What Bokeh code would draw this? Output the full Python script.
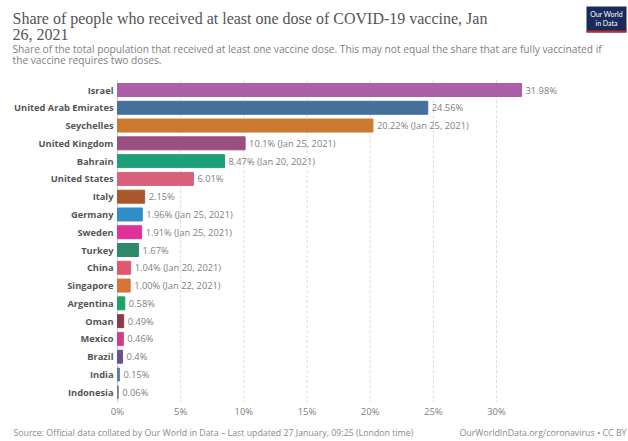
from bokeh.plotting import figure
from bokeh.models import ColumnDataSource, Range1d
from bokeh.core.properties import value
from bokeh.embed import file_html
from bokeh.resources import INLINE

countries = ["Israel", "United Arab Emirates", "Seychelles", "United Kingdom", "Bahrain",
             "United States", "Italy", "Germany", "Sweden", "Turkey", "China", "Singapore",
             "Argentina", "Oman", "Mexico", "Brazil", "India", "Indonesia"]
shares = [31.98, 24.56, 20.22, 10.1, 8.47, 6.01, 2.15, 1.96, 1.91, 1.67, 1.04, 1.00,
          0.58, 0.49, 0.46, 0.4, 0.15, 0.06]
share_text = ["31.98%", "24.56%", "20.22%", "10.1%", "8.47%", "6.01%", "2.15%", "1.96%",
              "1.91%", "1.67%", "1.04%", "1.00%", "0.58%", "0.49%", "0.46%", "0.4%",
              "0.15%", "0.06%"]
dates = ["", "", "Jan 25, 2021", "Jan 25, 2021", "Jan 20, 2021", "", "", "Jan 25, 2021",
         "Jan 25, 2021", "", "Jan 20, 2021", "Jan 22, 2021", "", "", "", "", "", ""]
colors = ["#ad5ea8", "#45709c", "#c97a2f", "#99507f", "#1f9e7a", "#d9607a", "#a8582b",
          "#2f8dc8", "#e0339a", "#2e8a6b", "#e2576b", "#d6743a", "#20a06a", "#8a3c4b",
          "#d33d88", "#6b4f94", "#5a7bb0", "#7a7a9a"]
x_ticks = [0, 5, 10, 15, 20, 25, 30]
x_tick_labels = ["0%", "5%", "10%", "15%", "20%", "25%", "30%"]

title_lines = ["Share of people who received at least one dose of COVID-19 vaccine, Jan",
               "26, 2021"]
subtitle_lines = ["Share of the total population that received at least one vaccine dose. "
                  "This may not equal the share that are fully vaccinated if",
                  "the vaccine requires two doses."]
source_text = ("Source: Official data collated by Our World in Data – Last updated "
               "27 January, 09:25 (London time)")
url_text = "OurWorldInData.org/coronavirus • CC BY"

labels = [t + (" (" + d + ")" if d else "") for t, d in zip(share_text, dates)]
rows = list(range(len(countries)))

# canvas geometry (pixels)
W, H = 628, 441
X0, XS = 117.0, (496.0 - 117.0) / 30.0   # canvas x of 0 %, px per %
Y0, YS = 89.5, 17.78                      # canvas y of first row centre, px per row
FONT = "Open Sans"


def dx(cx):
    return (cx - X0) / XS


def dy(cy):
    return (cy - Y0) / YS


p = figure(width=W, height=H, output_backend="svg", toolbar_location=None,
           x_range=Range1d(dx(0), dx(W)), y_range=Range1d(dy(H), dy(0)),
           min_border=0)
p.axis.visible = False
p.grid.visible = False
p.outline_line_color = None
p.background_fill_color = "white"
p.border_fill_color = "white"

src = ColumnDataSource(dict(row=rows, country=countries, share=shares, label=labels,
                            color=colors))

# grid lines
n = len(countries)
p.segment(x0=x_ticks[1:], x1=x_ticks[1:], y0=-0.55, y1=n - 0.45,
          line_color="#dddddd", line_dash="3 2", line_width=1)
p.segment(x0=[0], x1=[0], y0=-0.55, y1=n - 0.45, line_color="#cccccc", line_width=1)

# bars
p.hbar(y="row", right="share", left=0, height=0.73, color="color", source=src)

# bar labels
p.text(x="share", y="row", text="label", source=src, x_offset=4,
       text_baseline="middle", text_align="left", text_font_size="9.3px",
       text_color="#808080", text_font=value(FONT))
# category labels
p.text(x=0, y="row", text="country", source=src, x_offset=-4,
       text_baseline="middle", text_align="right", text_font_size="9.3px",
       text_font_style="bold", text_color="#555555", text_font=value(FONT))
# x tick labels
p.text(x=x_ticks, y=[dy(411)] * len(x_ticks), text=x_tick_labels,
       text_baseline="middle", text_align="center", text_font_size="9.5px",
       text_color="#808080", text_font=value(FONT))

# header
p.text(x=[dx(12)] * 2, y=[dy(18), dy(34)], text=title_lines, text_baseline="middle",
       text_align="left", text_font_size="16px", text_color="#555555",
       text_font=value("Liberation Serif"))
p.text(x=[dx(12)] * 2, y=[dy(48.5), dy(59.5)], text=subtitle_lines,
       text_baseline="middle", text_align="left", text_font_size="10.2px",
       text_color="#808080", text_font=value(FONT))
# footer
p.text(x=[dx(13)], y=[dy(432)], text=[source_text], text_baseline="middle",
       text_align="left", text_font_size="8.8px", text_color="#8a8a8a",
       text_font=value(FONT))
p.text(x=[dx(626)], y=[dy(432)], text=[url_text], text_baseline="middle",
       text_align="right", text_font_size="8.8px", text_color="#8a8a8a",
       text_font=value(FONT))

# logo
p.quad(left=[dx(586)], right=[dx(626)], top=[dy(6)], bottom=[dy(32)],
       fill_color="#1a2a5a", line_color=None)
p.quad(left=[dx(586)], right=[dx(626)], top=[dy(30)], bottom=[dy(32)],
       fill_color="#ce261e", line_color=None)
p.text(x=[dx(606)] * 2, y=[dy(13.5), dy(22)], text=["Our World", "in Data"],
       text_baseline="middle", text_align="center", text_font_size="7px",
       text_color="#ffffff", text_font=value("Lato"))

open("out.html", "w").write(file_html(p, INLINE))
